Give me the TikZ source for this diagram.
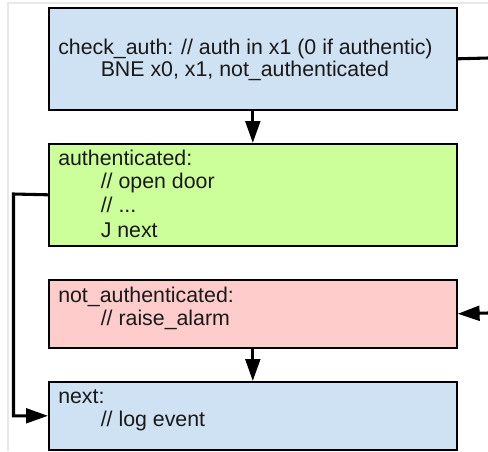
\documentclass[tikz,border=0pt]{standalone}
\usepackage{fontspec}
\setmainfont{Liberation Sans}
\usetikzlibrary{arrows.meta}

\definecolor{blockblue}{HTML}{CFE2F3}
\definecolor{blockgreen}{HTML}{CCFF99}
\definecolor{blockred}{HTML}{FFCCCC}
\definecolor{framegray}{HTML}{E8E8E8}

\begin{document}
\begin{tikzpicture}[
  x=0.75pt, y=-0.75pt,
  block/.style={draw=black, line width=1.2pt, anchor=north west, inner sep=0pt,
                minimum width=306pt},
  tall/.style={minimum height=76.5pt},
  short/.style={minimum height=51pt},
  codeline/.style={anchor=base west, inner sep=0pt, text=black!90,
                   font=\fontsize{16}{18}\selectfont},
  link/.style={line width=2.3pt, -{Triangle[length=16.5pt,width=11pt]}},
  stub/.style={line width=2.3pt}
]
\useasboundingbox (0,0) rectangle (488,451);
\fill[white] (0,0) rectangle (488,451);

% thin page frame
\draw[framegray, line width=0.8pt] (8,451) -- (8,3) -- (488,3);

% code blocks
\node[block, tall, fill=blockblue]  (check) at (48,7)   {};
\node[block, tall, fill=blockgreen] (auth)  at (48,143) {};
\node[block, short, fill=blockred]  (alarm) at (48,279) {};
\node[block, short, fill=blockblue] (next)  at (48,381) {};

% block contents
\node[codeline] (c1) at (58,54.3)    {check\_auth: // auth in x1 (0 if authentic)};
\node[codeline] (c2) at (100.5,76.7) {BNE x0, x1, not\_authenticated};

\node[codeline] (a1) at (58,165)     {authenticated:};
\node[codeline] (a2) at (100.5,188.7) {// open door};
\node[codeline] (a3) at (100.5,212.7) {// ...};
\node[codeline] (a4) at (100.5,237)  {J next};

\node[codeline] (n1) at (58,302)     {not\_authenticated:};
\node[codeline] (n2) at (100.5,325)  {// raise\_alarm};

\node[codeline] (l1) at (58,403.3)   {next:};
\node[codeline] (l2) at (100.5,426.7) {// log event};

% control flow
\draw[link] (check.south) -- (auth.north);
\draw[link] (alarm.south) -- (next.north);

\coordinate (jumpleft) at (13.5,194);
\draw[link] (auth.west) -- (jumpleft) |- (next.west);

\coordinate (branchout) at (488,58);
\coordinate (branchin)  at (488,313);
\draw[stub] (check.east) -- (branchout);
\draw[link] (branchin) -- (alarm.east);
\end{tikzpicture}
\end{document}
